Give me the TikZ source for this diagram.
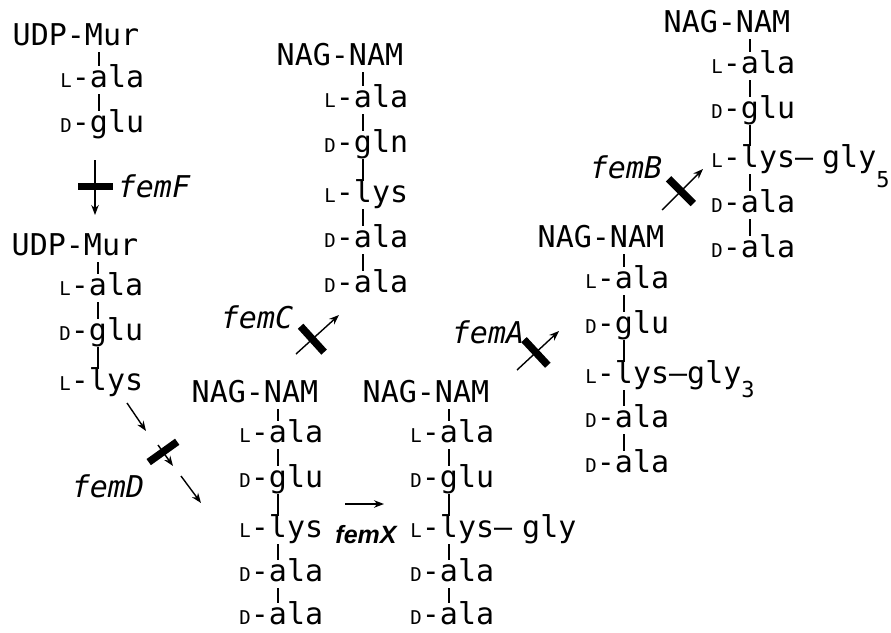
\documentclass[tikz,border=0pt]{standalone}
\usepackage{fontspec}
\setmonofont{DejaVu Sans Mono}
\newfontfamily\helv{Liberation Sans}
\usetikzlibrary{positioning,arrows.meta}
\tikzset{font=\ttfamily\fontsize{30}{32}\selectfont}
\tikzset{
	res/.style={inner sep=0pt, outer sep=0pt, text height=21pt, text depth=7pt},
	bond/.style={line width=1.6pt},
	rxn/.style={-{Stealth[length=10pt, width=7.5pt]}, line width=1.4pt},
	blockbar/.style={fill, inner sep=0pt, minimum width=7.5pt, minimum height=35pt, sloped},
	gene/.style={font=\ttfamily\itshape\fontsize{30}{32}\selectfont, inner sep=0pt},
}
% residue: small capital prefix, first letter sits on the backbone
\newcommand{\resid}[3]{\llap{{\fontsize{19}{19}\selectfont #1}-}#2\rlap{#3}}
\newcommand{\sugar}[3]{\llap{#1}#2\rlap{#3}}
\newcommand{\gsub}[2][-14pt]{\raisebox{#1}{\fontsize{22}{22}\selectfont #2}}

\begin{document}
\begin{tikzpicture}[x=1pt, y=-1pt]
	\useasboundingbox (0,0) rectangle (891,632);

	% UDP-Mur dipeptide
	\node[res] (ua0) at (94,38) {\sugar{UDP-}{M}{ur}};
	\node[res] (ua1) at (99,80) {\resid{L}{a}{la}};
	\node[res] (ua2) at (99,125) {\resid{D}{g}{lu}};
	\draw[bond] (ua1.north |- ua0.south) -- (ua1.north);
	\draw[bond] (ua1.south) -- (ua2.north);

	% femF
	\coordinate (fs) at (95,160);
	\coordinate (fe) at (95,215);
	\draw[rxn] (fs) -- node[blockbar, pos=0.48] {} (fe);
	\node[gene] (femF) at (154,186) {femF};

	% UDP-Mur tripeptide
	\node[res] (ub0) at (93,248) {\sugar{UDP-}{M}{ur}};
	\node[res] (ub1) at (98,288) {\resid{L}{a}{la}};
	\node[res] (ub2) at (98,333) {\resid{D}{g}{lu}};
	\node[res] (ub3) at (98,383) {\resid{L}{l}{ys}};
	\draw[bond] (ub1.north |- ub0.south) -- (ub1.north);
	\draw[bond] (ub1.south) -- (ub2.north);
	\draw[bond] (ub2.south) -- (ub3.north);

	% femD
	\coordinate (d0) at (127,403);
	\coordinate (d1) at (146,431);
	\coordinate (d2) at (158,445);
	\coordinate (d3) at (173,466);
	\coordinate (d4) at (181,476);
	\coordinate (d5) at (201,503);
	\draw[rxn] (d0) -- (d1);
	\draw[rxn] (d2) -- node[blockbar, pos=0.33] {} (d3);
	\draw[rxn] (d4) -- (d5);
	\node[gene] (femD) at (108,486) {femD};

	% gln stem
	\node[res] (gln0) at (358,58) {\sugar{NAG-}{N}{AM}};
	\node[res] (gln1) at (363,100) {\resid{L}{a}{la}};
	\node[res] (gln2) at (363,145) {\resid{D}{g}{ln}};
	\node[res] (gln3) at (363,195) {\resid{L}{l}{ys}};
	\node[res] (gln4) at (363,240) {\resid{D}{a}{la}};
	\node[res] (gln5) at (363,285) {\resid{D}{a}{la}};
	\draw[bond] (gln1.north |- gln0.south) -- (gln1.north);
	\draw[bond] (gln1.south) -- (gln2.north);
	\draw[bond] (gln2.south) -- (gln3.north);
	\draw[bond] (gln3.south) -- (gln4.north);
	\draw[bond] (gln4.south) -- (gln5.north);

	% femC
	\coordinate (c0) at (296,354);
	\coordinate (c1) at (339,315);
	\draw[rxn] (c0) -- node[blockbar, pos=0.38] {} (c1);
	\node[gene] (femC) at (257,317) {femC};

	% lys stem
	\node[res] (lys0) at (273,395) {\sugar{NAG-}{N}{AM}};
	\node[res] (lys1) at (278,435) {\resid{L}{a}{la}};
	\node[res] (lys2) at (278,480) {\resid{D}{g}{lu}};
	\node[res] (lys3) at (278,530) {\resid{L}{l}{ys}};
	\node[res] (lys4) at (278,574) {\resid{D}{a}{la}};
	\node[res] (lys5) at (278,617) {\resid{D}{a}{la}};
	\draw[bond] (lys1.north |- lys0.south) -- (lys1.north);
	\draw[bond] (lys1.south) -- (lys2.north);
	\draw[bond] (lys2.south) -- (lys3.north);
	\draw[bond] (lys3.south) -- (lys4.north);
	\draw[bond] (lys4.south) -- (lys5.north);

	% femX
	\coordinate (x0) at (345,504);
	\coordinate (x1) at (384,504);
	\draw[rxn] (x0) -- (x1);
	\node[font=\helv\bfseries\itshape\fontsize{25}{27}\selectfont, inner sep=0pt] (femX) at (366,535) {femX};

	% one gly
	\node[res] (gly0) at (444,395) {\sugar{NAG-}{N}{AM}};
	\node[res] (gly1) at (449,435) {\resid{L}{a}{la}};
	\node[res] (gly2) at (449,480) {\resid{D}{g}{lu}};
	\node[res] (gly3) at (449,530) {\resid{L}{l}{ys–\kern10pt gly}};
	\node[res] (gly4) at (449,574) {\resid{D}{a}{la}};
	\node[res] (gly5) at (449,617) {\resid{D}{a}{la}};
	\draw[bond] (gly1.north |- gly0.south) -- (gly1.north);
	\draw[bond] (gly1.south) -- (gly2.north);
	\draw[bond] (gly2.south) -- (gly3.north);
	\draw[bond] (gly3.south) -- (gly4.north);
	\draw[bond] (gly4.south) -- (gly5.north);

	% femA
	\coordinate (a0) at (517,370);
	\coordinate (a1) at (559,331);
	\draw[rxn] (a0) -- node[blockbar, pos=0.45] {} (a1);
	\node[gene] (femA) at (488,332) {femA};

	% gly3
	\node[res] (tri0) at (619,240) {\sugar{NAG-}{N}{AM}};
	\node[res] (tri1) at (624,281) {\resid{L}{a}{la}};
	\node[res] (tri2) at (624,326) {\resid{D}{g}{lu}};
	\node[res] (tri3) at (624,376) {\resid{L}{l}{ys–gly\gsub{3}}};
	\node[res] (tri4) at (624,420) {\resid{D}{a}{la}};
	\node[res] (tri5) at (624,465) {\resid{D}{a}{la}};
	\draw[bond] (tri1.north |- tri0.south) -- (tri1.north);
	\draw[bond] (tri1.south) -- (tri2.north);
	\draw[bond] (tri2.south) -- (tri3.north);
	\draw[bond] (tri3.south) -- (tri4.north);
	\draw[bond] (tri4.south) -- (tri5.north);

	% femB
	\coordinate (b0) at (662,210);
	\coordinate (b1) at (703,169);
	\draw[rxn] (b0) -- node[blockbar, pos=0.46] {} (b1);
	\node[gene] (femB) at (626,167) {femB};

	% gly5
	\node[res] (pen0) at (745,25) {\sugar{NAG-}{N}{AM}};
	\node[res] (pen1) at (750,66) {\resid{L}{a}{la}};
	\node[res] (pen2) at (750,111) {\resid{D}{g}{lu}};
	\node[res] (pen3) at (750,160) {\resid{L}{l}{ys–\kern9pt gly\gsub[-20pt]{5}}};
	\node[res] (pen4) at (750,205) {\resid{D}{a}{la}};
	\node[res] (pen5) at (750,250) {\resid{D}{a}{la}};
	\draw[bond] (pen1.north |- pen0.south) -- (pen1.north);
	\draw[bond] (pen1.south) -- (pen2.north);
	\draw[bond] (pen2.south) -- (pen3.north);
	\draw[bond] (pen3.south) -- (pen4.north);
	\draw[bond] (pen4.south) -- (pen5.north);
\end{tikzpicture}
\end{document}
